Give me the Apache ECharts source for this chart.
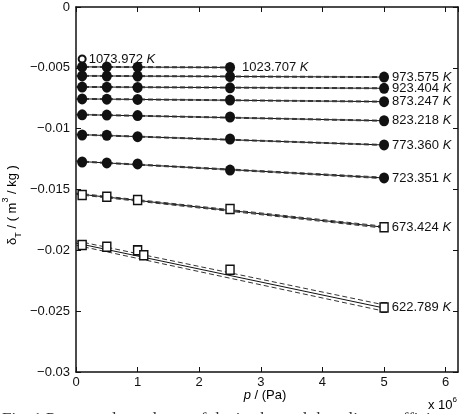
<!DOCTYPE html>
<html>
<head>
<meta charset="utf-8">
<script src="https://cdn.jsdelivr.net/npm/echarts@6/dist/echarts.min.js"></script>
<style>
  html, body { margin: 0; padding: 0; background: #fff; }
  #chart { width: 463px; height: 414px; }
</style>
</head>
<body>
<div id="chart"></div>
<script>
// pressures of the measurement points, Pa
const pressures = [1e5, 5e5, 1e6, 2.5e6, 5e6];
const pressures622 = [1e5, 5e5, 1e6, 1.1e6, 2.5e6, 5e6];

// measured delta_T, m3/kg
const d1073 = [-0.00427];
const d1023 = [-0.00493, -0.00493, -0.00495, -0.00497];
const d973 = [-0.00567, -0.00568, -0.00569, -0.00572, -0.00576];
const d923 = [-0.00658, -0.00659, -0.00661, -0.00664, -0.00668];
const d873 = [-0.00756, -0.00758, -0.00760, -0.00765, -0.00778];
const d823 = [-0.00886, -0.00888, -0.00892, -0.00904, -0.00935];
const d773 = [-0.01052, -0.01054, -0.01066, -0.01085, -0.01134];
const d723 = [-0.01274, -0.01282, -0.01290, -0.01340, -0.01405];
const d673 = [-0.01545, -0.01560, -0.01586, -0.01660, -0.01810];
const d622 = [-0.01956, -0.01970, -0.02000, -0.02040, -0.02160, -0.02470];

// error bar half-widths
const e673 = [0.00020, 0.00015, 0.00015, 0.00015, 0.00015];
const e622 = [0.00025, 0.00025, 0.00020, 0.00015, 0.00030, 0.00040];

// fitted lines [value at p=0, value at last p], with dashed upper / lower bounds
const fit1023 = [-0.00492, -0.00497], up1023 = [-0.00488, -0.00493], lo1023 = [-0.00496, -0.00501];
const fit973 = [-0.00566, -0.00576], up973 = [-0.00562, -0.00572], lo973 = [-0.00570, -0.00580];
const fit923 = [-0.00657, -0.00668], up923 = [-0.00653, -0.00664], lo923 = [-0.00661, -0.00672];
const fit873 = [-0.00755, -0.00778], up873 = [-0.00751, -0.00774], lo873 = [-0.00759, -0.00782];
const fit823 = [-0.00884, -0.00935], up823 = [-0.00880, -0.00931], lo823 = [-0.00888, -0.00939];
const fit773 = [-0.01048, -0.01134], up773 = [-0.01044, -0.01130], lo773 = [-0.01052, -0.01138];
const fit723 = [-0.01268, -0.01405], up723 = [-0.01264, -0.01399], lo723 = [-0.01272, -0.01411];
const fit673 = [-0.01535, -0.01810], up673 = [-0.01529, -0.01802], lo673 = [-0.01541, -0.01818];
const fit622 = [-0.01940, -0.02474], up622 = [-0.01922, -0.02448], lo622 = [-0.01958, -0.02500];

const yTicks = [0, -0.005, -0.01, -0.015, -0.02, -0.025, -0.03];

const FONT = 'Liberation Sans, Arial, sans-serif';
const INK = '#111';

const isotherms = [
    { t: '1023.707', p: pressures.slice(0, 4), d: d1023, fit: fit1023, up: up1023, lo: lo1023, mark: 'fill' },
    { t: '973.575', p: pressures, d: d973, fit: fit973, up: up973, lo: lo973, mark: 'fill' },
    { t: '923.404', p: pressures, d: d923, fit: fit923, up: up923, lo: lo923, mark: 'fill' },
    { t: '873.247', p: pressures, d: d873, fit: fit873, up: up873, lo: lo873, mark: 'fill' },
    { t: '823.218', p: pressures, d: d823, fit: fit823, up: up823, lo: lo823, mark: 'fill' },
    { t: '773.360', p: pressures, d: d773, fit: fit773, up: up773, lo: lo773, mark: 'fill' },
    { t: '723.351', p: pressures, d: d723, fit: fit723, up: up723, lo: lo723, mark: 'fill' },
    { t: '673.424', p: pressures, d: d673, err: e673, fit: fit673, up: up673, lo: lo673, mark: 'open' },
    { t: '622.789', p: pressures622, d: d622, err: e622, fit: fit622, up: up622, lo: lo622, mark: 'open' },
];

const labelRich = {
    n: { fontFamily: FONT, fontSize: 13, color: INK },
    k: { fontFamily: FONT, fontSize: 13, color: INK, fontStyle: 'italic' },
};
const tempLabel = t => `{n|${t} }{k|K}`;

const series = [];
isotherms.forEach(iso => {
    const pEnd = iso.p[iso.p.length - 1];
    const line = (vals, dashed) => ({
        type: 'line',
        data: [[0, vals[0]], [pEnd, vals[1]]],
        symbol: 'none',
        silent: true,
        z: 2,
        lineStyle: dashed
            ? { color: '#333', width: 1, type: [5, 3] }
            : { color: INK, width: 1 },
    });
    series.push(line(iso.fit, false), line(iso.up, true), line(iso.lo, true));

    if (iso.err) {
        series.push({
            type: 'custom',
            z: 3,
            data: iso.p.map((p, i) => [p, iso.d[i], iso.err[i]]),
            renderItem: (params, api) => {
                const x = api.value(0), y = api.value(1), e = api.value(2);
                const top = api.coord([x, y + e]);
                const bot = api.coord([x, y - e]);
                const st = { stroke: INK, lineWidth: 1 };
                return {
                    type: 'group',
                    children: [
                        { type: 'line', shape: { x1: top[0], y1: top[1], x2: bot[0], y2: bot[1] }, style: st },
                        { type: 'line', shape: { x1: top[0] - 3, y1: top[1], x2: top[0] + 3, y2: top[1] }, style: st },
                        { type: 'line', shape: { x1: bot[0] - 3, y1: bot[1], x2: bot[0] + 3, y2: bot[1] }, style: st },
                    ],
                };
            },
        });
    }

    const open = iso.mark === 'open';
    series.push({
        type: 'scatter',
        z: 4,
        symbol: open ? 'rect' : 'circle',
        symbolSize: open ? [8, 9] : [10, 11],
        itemStyle: open
            ? { color: '#fff', borderColor: INK, borderWidth: 1.5, opacity: 1 }
            : { color: INK, opacity: 1 },
        data: iso.d.map((v, i) => {
            const item = { value: [iso.p[i], v] };
            if (i === iso.d.length - 1) {
                item.label = {
                    show: true, position: 'right', distance: iso.t === '1023.707' ? 7 : 3,
                    formatter: tempLabel(iso.t), rich: labelRich,
                };
            }
            return item;
        }),
    });
});

// highest isotherm: single open circle
series.push({
    type: 'scatter',
    z: 4,
    symbol: 'emptyCircle',
    symbolSize: 7,
    itemStyle: { color: INK, borderColor: INK, borderWidth: 1.2, opacity: 1 },
    data: [{
        value: [pressures[0], d1073[0]],
        label: { show: true, position: 'right', distance: 2, formatter: tempLabel('1073.972'), rich: labelRich },
    }],
});

const fmtY = v => {
    const s = String(+v.toFixed(3));
    return s.startsWith('-') ? '\u2212' + s.slice(1) : s;
};

const axisCommon = {
    axisLine: { show: true, onZero: false, lineStyle: { color: INK, width: 1.5 } },
    axisTick: { show: true, inside: true, length: 5, lineStyle: { color: INK } },
    splitLine: { show: false },
};

const chart = echarts.init(document.getElementById('chart'));
chart.setOption({
    backgroundColor: '#fff',
    animation: false,
    grid: { left: 76, right: 5, top: 7, bottom: 42 },
    xAxis: [
        {
            type: 'value', min: 0, max: 6.2e6, interval: 1e6, position: 'bottom',
            ...axisCommon,
            axisLabel: {
                color: INK, fontFamily: FONT, fontSize: 13, margin: 4, showMaxLabel: false,
                formatter: v => String(Math.round(v / 1e6)),
            },
        },
        {
            type: 'value', min: 0, max: 6.2e6, interval: 1e6, position: 'top',
            ...axisCommon, axisLabel: { show: false },
        },
    ],
    yAxis: [
        {
            type: 'value', min: yTicks[yTicks.length - 1], max: yTicks[0], interval: 0.005, position: 'left',
            ...axisCommon,
            axisLabel: { color: INK, fontFamily: FONT, fontSize: 13, margin: 6, formatter: fmtY },
        },
        {
            type: 'value', min: -0.03, max: 0, interval: 0.005, position: 'right',
            ...axisCommon, axisLabel: { show: false },
        },
    ],
    series,
    graphic: [
        {
            type: 'text', x: 12, y: 205, rotation: Math.PI / 2,
            style: {
                text: '{a|\u03b4}{sub|T}{a| / ( m}{sup|3}{a| / kg )}',
                align: 'center', verticalAlign: 'middle',
                rich: {
                    a: { fontFamily: FONT, fontSize: 13, color: INK, lineHeight: 22, verticalAlign: 'middle' },
                    sub: { fontFamily: FONT, fontSize: 9, color: INK, lineHeight: 22, verticalAlign: 'bottom' },
                    sup: { fontFamily: FONT, fontSize: 9, color: INK, lineHeight: 22, verticalAlign: 'top' },
                },
            },
        },
        {
            type: 'text', x: 265, y: 395,
            style: {
                text: '{i|p}{a| / (Pa)}', align: 'center', verticalAlign: 'middle',
                rich: {
                    i: { fontFamily: FONT, fontSize: 13, color: INK, fontStyle: 'italic' },
                    a: { fontFamily: FONT, fontSize: 13, color: INK },
                },
            },
        },
        {
            type: 'text', x: 428, y: 405,
            style: {
                text: '{a|x 10}{sup|6}', align: 'left', verticalAlign: 'middle',
                rich: {
                    a: { fontFamily: FONT, fontSize: 13, color: INK, lineHeight: 18, verticalAlign: 'middle' },
                    sup: { fontFamily: FONT, fontSize: 8, color: INK, lineHeight: 18, verticalAlign: 'top' },
                },
            },
        },
        {
            type: 'text', x: 2, y: 420,
            style: {
                text: 'Fig. 1 Pressure dependence of the isothermal throttling coefficient',
                fontFamily: 'Liberation Serif, Times New Roman, serif', fontSize: 17,
                fill: '#333', align: 'left', verticalAlign: 'middle',
            },
        },
    ],
});
</script>
</body>
</html>
